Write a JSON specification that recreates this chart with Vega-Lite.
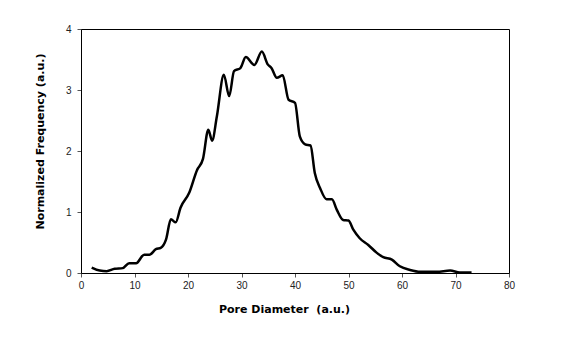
{
  "$schema": "https://vega.github.io/schema/vega-lite/v6.json",
  "autosize": "none",
  "width": 428,
  "height": 244,
  "padding": {"left": 81, "top": 29, "right": 60, "bottom": 70},
  "background": "white",
  "config": {
    "font": "Liberation Sans",
    "view": {"stroke": "black", "strokeWidth": 1},
    "axis": {
      "grid": false,
      "domainColor": "black",
      "domainWidth": 1,
      "tickColor": "#555",
      "tickSize": 4,
      "labelFont": "Liberation Sans",
      "labelFontSize": 10,
      "labelColor": "#222",
      "titleFont": "DejaVu Sans",
      "titleFontSize": 11,
      "titleFontWeight": "bold",
      "titleColor": "black"
    }
  },
  "data": {
    "values": [
      {"d": 2.0, "f": 0.09},
      {"d": 3.5, "f": 0.04},
      {"d": 4.8, "f": 0.03},
      {"d": 6.3, "f": 0.07},
      {"d": 7.8, "f": 0.08},
      {"d": 9.0, "f": 0.16},
      {"d": 10.3, "f": 0.16},
      {"d": 11.8, "f": 0.3},
      {"d": 12.8, "f": 0.3},
      {"d": 14.0, "f": 0.39},
      {"d": 14.9, "f": 0.41},
      {"d": 15.9, "f": 0.55},
      {"d": 16.8, "f": 0.88},
      {"d": 17.7, "f": 0.83},
      {"d": 18.6, "f": 1.07},
      {"d": 20.2, "f": 1.31},
      {"d": 21.7, "f": 1.69},
      {"d": 22.8, "f": 1.87},
      {"d": 23.8, "f": 2.35},
      {"d": 24.5, "f": 2.17},
      {"d": 25.4, "f": 2.57},
      {"d": 26.7, "f": 3.25},
      {"d": 27.7, "f": 2.9},
      {"d": 28.6, "f": 3.31},
      {"d": 29.8, "f": 3.36},
      {"d": 30.8, "f": 3.54},
      {"d": 32.4, "f": 3.41},
      {"d": 33.8, "f": 3.63},
      {"d": 34.9, "f": 3.42},
      {"d": 35.6, "f": 3.36},
      {"d": 36.6, "f": 3.2},
      {"d": 37.7, "f": 3.24},
      {"d": 38.8, "f": 2.84},
      {"d": 40.0, "f": 2.79},
      {"d": 40.9, "f": 2.24},
      {"d": 41.9, "f": 2.11},
      {"d": 42.9, "f": 2.09},
      {"d": 43.7, "f": 1.64},
      {"d": 44.7, "f": 1.39},
      {"d": 45.9, "f": 1.21},
      {"d": 46.9, "f": 1.21},
      {"d": 47.8, "f": 1.04},
      {"d": 49.0, "f": 0.87},
      {"d": 50.0, "f": 0.86},
      {"d": 50.9, "f": 0.71},
      {"d": 52.1, "f": 0.57},
      {"d": 53.7, "f": 0.46},
      {"d": 55.3, "f": 0.33},
      {"d": 56.5, "f": 0.26},
      {"d": 58.1, "f": 0.22},
      {"d": 59.6, "f": 0.11},
      {"d": 61.5, "f": 0.05},
      {"d": 63.4, "f": 0.02},
      {"d": 66.5, "f": 0.02},
      {"d": 69.0, "f": 0.04},
      {"d": 70.8, "f": 0.01},
      {"d": 73.0, "f": 0.01}
    ]
  },
  "mark": {"type": "line", "color": "black", "strokeWidth": 2.5, "interpolate": "monotone"},
  "encoding": {
    "x": {
      "field": "d", "type": "quantitative",
      "scale": {"domain": [0, 80], "nice": false},
      "axis": {"values": [0, 10, 20, 30, 40, 50, 60, 70, 80], "title": "Pore Diameter\u00a0 (a.u.)", "labelPadding": 3, "titlePadding": 13, "titleX": 203, "labelFlush": false}
    },
    "y": {
      "field": "f", "type": "quantitative",
      "scale": {"domain": [0, 4], "nice": false},
      "axis": {"values": [0, 1, 2, 3, 4], "title": "Normalized Frequency (a.u.)", "labelPadding": 6, "titlePadding": 20, "titleY": 112, "labelFlush": false}
    }
  }
}
